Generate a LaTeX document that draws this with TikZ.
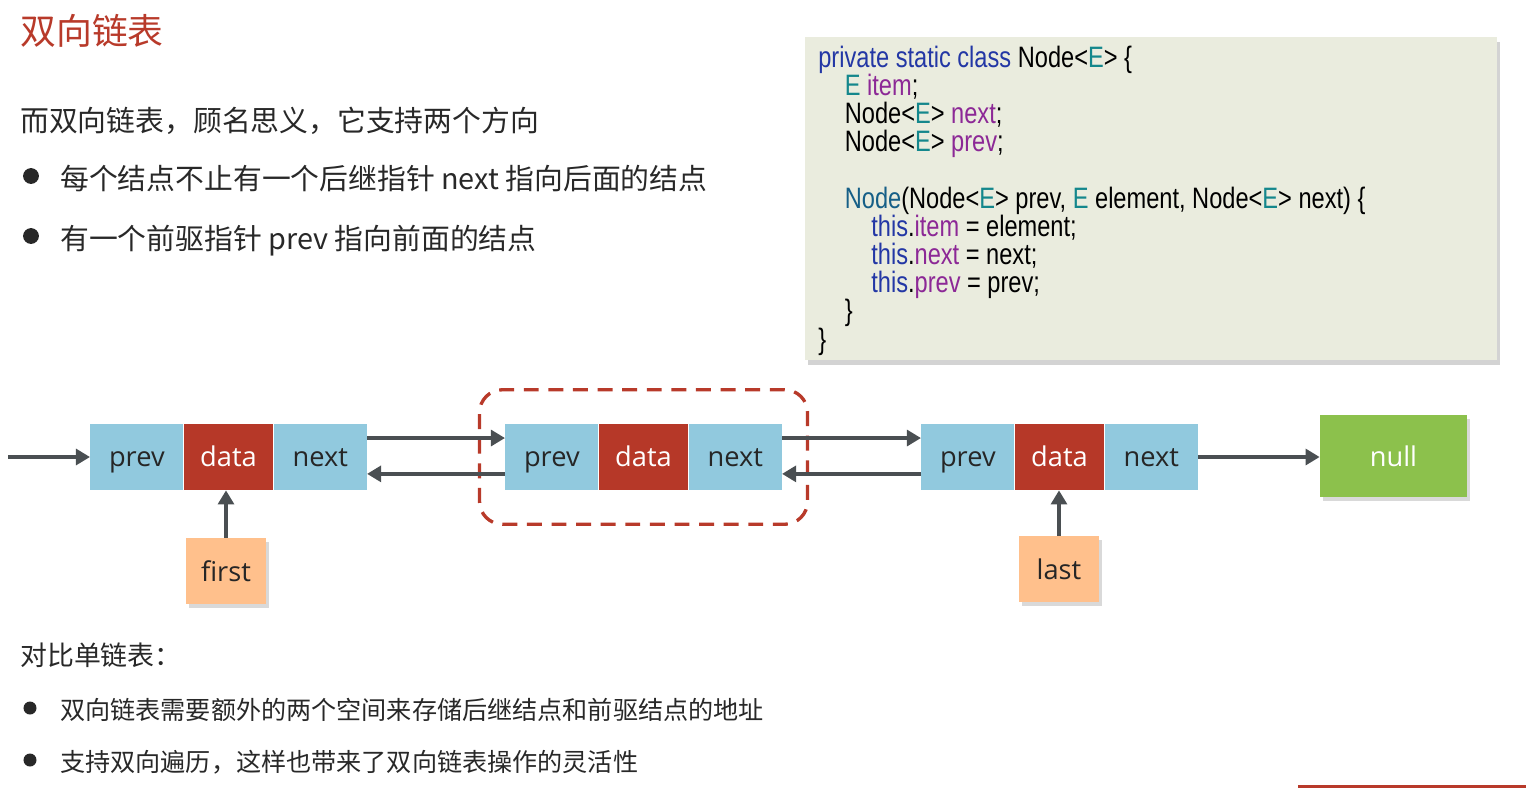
\documentclass[tikz,border=0pt]{standalone}
\usepackage{fontspec}
\setmainfont{Noto Sans CJK SC}
\newfontfamily\labelfont{Open Sans}
\newfontfamily\codefont[FakeStretch=0.8]{Liberation Sans}
\usepackage{xcolor}
\usetikzlibrary{
	arrows.meta,
	positioning,
	fit,
	shadows
}
\definecolor{TitleRed}{RGB}{184,58,42}
\definecolor{TextGray}{RGB}{40,40,40}
\definecolor{CellBlue}{RGB}{145,201,222}
\definecolor{CellRed}{RGB}{182,56,40}
\definecolor{NullGreen}{RGB}{140,193,76}
\definecolor{PtrPeach}{RGB}{255,192,140}
\definecolor{ArrowGray}{RGB}{74,79,82}
\definecolor{CodeBg}{RGB}{234,236,222}
\definecolor{KwBlue}{RGB}{35,55,165}
\definecolor{TypeTeal}{RGB}{20,135,140}
\definecolor{FieldPurple}{RGB}{140,40,150}
\definecolor{CtorTeal}{RGB}{22,95,135}
\newcommand\codekw[1]{\textcolor{KwBlue}{#1}}
\newcommand\codetype[1]{\textcolor{TypeTeal}{#1}}
\newcommand\codefield[1]{\textcolor{FieldPurple}{#1}}
\newcommand\codector[1]{\textcolor{CtorTeal}{#1}}

\begin{document}
\begin{tikzpicture}[x=0.02cm, y=-0.02cm,
	txt/.style={anchor=base west, inner sep=0, text=TextGray},
	cell/.style={minimum width=1.86cm, minimum height=1.32cm, inner sep=0,
		text height=2.1ex, text depth=0.2ex,
		fill=CellBlue, text=black!85, font=\labelfont\fontsize{15.5}{18}\selectfont},
	datacell/.style={cell, minimum width=1.78cm, fill=CellRed, text=white},
	ptrbox/.style={minimum width=1.6cm, minimum height=1.32cm, inner sep=0, fill=PtrPeach,
		text=black!85, font=\labelfont\fontsize{15.5}{18}\selectfont,
		drop shadow={shadow xshift=1.5pt, shadow yshift=-2pt, opacity=.3}},
	link/.style={draw=ArrowGray, line width=2.3pt, -{Triangle[length=8pt,width=9pt]}},
	focus/.style={draw=TitleRed, line width=1.9pt, dash pattern=on 8.5pt off 5.5pt,
		rounded corners=13pt, inner xsep=14.5pt, inner ysep=19.3pt},
	codeline/.style={anchor=base west, inner sep=0, text=black,
		font=\codefont\fontsize{16.8}{18}\selectfont}
	]
	\useasboundingbox (0,0) rectangle (1526,788);

	\node[txt, text=TitleRed, font=\fontsize{20.4}{24}\selectfont] (title) at (20,44) {双向链表};
	\node[txt, font=\fontsize{16.4}{20}\selectfont] (intro) at (20,131) {而双向链表，顾名思义，它支持两个方向};
	\node[txt, font=\fontsize{16.4}{20}\selectfont] (pointA) at (60,189) {每个结点不止有一个后继指针 next 指向后面的结点};
	\node[txt, font=\fontsize{16.4}{20}\selectfont] (pointB) at (60,249) {有一个前驱指针 prev 指向前面的结点};
	\foreach \y in {176,236}
		\fill[TextGray] (31,\y) circle (4.5pt);

	\node[fill=CodeBg, minimum width=13.84cm, minimum height=6.46cm, inner sep=0,
		drop shadow={shadow xshift=1.5pt, shadow yshift=-3pt, opacity=.35}] (code) at (1151,198.5) {};
	\foreach \ind/\row/\txt in {
		0/0/{\codekw{private static class} Node<\codetype{E}> \{},
		1/1/{\codetype{E} \codefield{item};},
		1/2/{Node<\codetype{E}> \codefield{next};},
		1/3/{Node<\codetype{E}> \codefield{prev};},
		1/5/{\codector{Node}(Node<\codetype{E}> prev, \codetype{E} element, Node<\codetype{E}> next) \{},
		2/6/{\codekw{this}.\codefield{item} = element;},
		2/7/{\codekw{this}.\codefield{next} = next;},
		2/8/{\codekw{this}.\codefield{prev} = prev;},
		1/9/{\}},
		0/10/{\}}}
		\node[codeline] at (818+26.5*\ind, 67+28.2*\row) {\txt};

	\node[cell, anchor=west] (aprev) at (90,457) {prev};
	\node[datacell, right=0pt of aprev] (adata) {data};
	\node[cell, right=0pt of adata] (anext) {next};

	\node[cell, anchor=west] (bprev) at (505,457) {prev};
	\node[datacell, right=0pt of bprev] (bdata) {data};
	\node[cell, right=0pt of bdata] (bnext) {next};

	\node[cell, anchor=west] (cprev) at (921,457) {prev};
	\node[datacell, right=0pt of cprev] (cdata) {data};
	\node[cell, right=0pt of cdata] (cnext) {next};

	\node[minimum width=2.94cm, minimum height=1.64cm, inner sep=0, fill=NullGreen, text=white,
		font=\labelfont\fontsize{15.5}{18}\selectfont,
		drop shadow={shadow xshift=1.5pt, shadow yshift=-2pt, opacity=.3}] (null) at (1393.5,456) {null};
	\node[ptrbox] (first) at (226,571) {first};
	\node[ptrbox] (last) at (1059,569) {last};

	\node[focus, fit=(bprev)(bnext)] (current) {};

	\coordinate (head) at (8,457);
	\draw[link] (head) -- (aprev.west);
	\draw[link] ([yshift=10.8pt]anext.east) -- ([yshift=10.8pt]bprev.west);
	\draw[link] ([yshift=-9.6pt]bprev.west) -- ([yshift=-9.6pt]anext.east);
	\draw[link] ([yshift=10.8pt]bnext.east) -- ([yshift=10.8pt]cprev.west);
	\draw[link] ([yshift=-9.6pt]cprev.west) -- ([yshift=-9.6pt]bnext.east);
	\draw[link] (cnext.east) -- (cnext.east -| null.west);
	\draw[link] (first.north) -- (first.north |- adata.south);
	\draw[link] (last.north) -- (last.north |- cdata.south);

	\node[txt, font=\fontsize{15.3}{19}\selectfont] (compare) at (20,665) {对比单链表：};
	\node[txt, font=\fontsize{14.3}{18}\selectfont] (pointC) at (60,719) {双向链表需要额外的两个空间来存储后继结点和前驱结点的地址};
	\node[txt, font=\fontsize{14.3}{18}\selectfont] (pointD) at (60,771) {支持双向遍历，这样也带来了双向链表操作的灵活性};
	\foreach \y in {708,760}
		\fill[TextGray] (30,\y) circle (3.7pt);

	\draw[TitleRed, line width=2pt] (1298,786.5) -- (1526,786.5);
\end{tikzpicture}
\end{document}
